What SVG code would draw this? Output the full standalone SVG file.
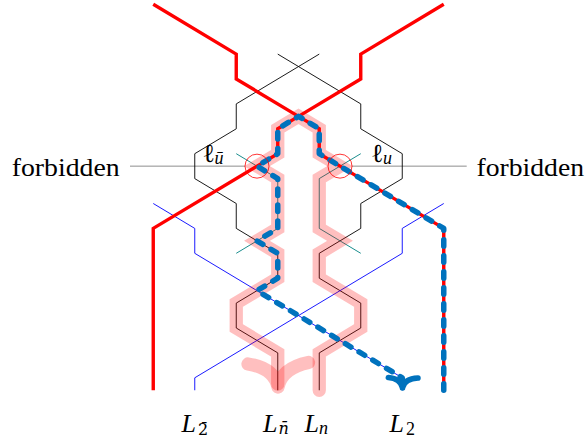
<svg xmlns="http://www.w3.org/2000/svg" width="585" height="442" viewBox="0 0 585 442">
<style>
.thin{fill:none;stroke-width:0.9}
.blk{stroke:#000}
.teal{stroke:#008080}
.bl{stroke:#00f}
.grey{stroke:#808080}
.red{fill:none;stroke:#f00;stroke-width:3.4}
.circ{fill:none;stroke:#f00;stroke-width:0.8}
.halo{fill:none;stroke:#f00;stroke-opacity:0.25;stroke-width:13.3;stroke-linecap:round}
.dash{fill:none;stroke:#0072bd;stroke-width:5.5;stroke-linecap:round;stroke-linejoin:round;stroke-dasharray:6.5 9.5}
.arrowB{fill:none;stroke:#0072bd;stroke-width:5.5;stroke-linecap:round}
.txt{font-family:"Liberation Serif","DejaVu Serif",serif;font-size:26px;fill:#000}
.sub{font-size:18px}
.subm{font-family:"DejaVu Serif","Liberation Serif",serif;font-size:16px}
.it{font-style:italic}
</style>
<g id="connectors">
<g id="forbidden-leaders">
<line class="thin grey" x1="130" y1="166.15" x2="245" y2="166.15"/>
<line class="thin grey" x1="352" y1="166.15" x2="466.7" y2="166.15"/>
</g>
<g id="tubes">
<polyline class="thin blk" points="319.25,54.1 236.25,103.9 236.25,128.8 194.75,153.7 194.75,178.6 236.25,203.5 236.25,228.4 277.75,253.3 277.75,278.2 236.25,303.1 236.25,328 277.75,352.9 277.75,390.25"/>
<polyline class="thin blk" points="277.75,54.1 360.75,103.9 360.75,128.8 402.25,153.7 402.25,178.6 360.75,203.5 360.75,228.4 319.25,253.3 319.25,278.2 360.75,303.1 360.75,328 319.25,352.9 319.25,390.25"/>
<polyline class="thin teal" points="236.25,153.7 277.75,178.6 277.75,228.4 236.25,253.3"/>
<polyline class="thin teal" points="360.75,153.7 319.25,178.6 319.25,228.4 360.75,253.3"/>
</g>
<g id="lines-L2">
<polyline class="thin bl" points="153.25,203.5 194.75,228.4 194.75,253.3 402.25,377.8 402.25,390.25"/>
<polyline class="thin bl" points="443.75,203.5 402.25,228.4 402.25,253.3 194.75,377.8 194.75,390.25"/>
</g>
<g id="red-paths">
<polyline class="red" points="153.25,4.3 236.25,54.1 236.25,79 298.5,116.35 319.25,128.8 319.25,153.7 340,166.15 443.75,228.4 443.75,390.25"/>
<polyline class="red" points="443.75,4.3 360.75,54.1 360.75,79 298.5,116.35 277.75,128.8 277.75,153.7 257,166.15 153.25,228.4 153.25,390.25"/>
</g>
<g id="halo-path">
<polyline class="halo" points="319.25,390.25 319.25,352.9 360.75,328 360.75,303.1 319.25,278.2 319.25,253.3 340,240.85 319.25,228.4 319.25,178.6 340,166.15 319.25,153.7 319.25,128.8 298.5,116.35 277.75,128.8 277.75,153.7 257,166.15 277.75,178.6 277.75,228.4 257,240.85 277.75,253.3 277.75,278.2 236.25,303.1 236.25,328 277.75,352.9 277.75,384"/>
<path class="halo" d="M248,364 Q274,368 278,387 M308.5,362.5 Q282,368 278,387"/>
</g>
<g id="blue-path">
<polyline class="dash" points="443.75,390.25 443.75,228.4 340,166.15 319.25,153.7 319.25,128.8 298.5,116.35 277.75,128.8 277.75,153.7 257,166.15 277.75,178.6 277.75,228.4 257,240.85 277.75,253.3 277.75,278.2 257,290.65 402.25,377.8 402.25,384"/>
<path class="arrowB" d="M388.3,377.5 Q400.5,378.5 402.5,388 M418,378 Q404.5,378.5 402.5,388"/>
</g>
</g>
<g id="node-u-bar">
<circle class="circ" cx="257" cy="166.15" r="12"/>
<text class="txt" x="202.5" y="161.5">ℓ</text>
<text class="txt sub it" x="214.5" y="164">ū</text>
</g>
<g id="node-u">
<circle class="circ" cx="340" cy="166.15" r="12"/>
<text class="txt" x="371" y="161.5">ℓ</text>
<text class="txt sub it" x="383" y="164">u</text>
</g>
<g id="label-forbidden-left">
<text class="txt" x="11.7" y="176" textLength="108" lengthAdjust="spacingAndGlyphs">forbidden</text>
</g>
<g id="label-forbidden-right">
<text class="txt" x="476.5" y="176" textLength="107.5" lengthAdjust="spacingAndGlyphs">forbidden</text>
</g>
<g id="label-L2bar">
<text class="txt it" x="181.5" y="432">L</text>
<text class="txt subm" x="198" y="434.5">2̄</text>
</g>
<g id="label-Lnbar">
<text class="txt it" x="263" y="432">L</text>
<text class="txt subm it" x="278.5" y="434">n̄</text>
</g>
<g id="label-Ln">
<text class="txt it" x="304.5" y="432">L</text>
<text class="txt sub it" x="319" y="434">n</text>
</g>
<g id="label-L2">
<text class="txt it" x="389.5" y="432">L</text>
<text class="txt sub" x="406" y="434.5">2</text>
</g>
</svg>
